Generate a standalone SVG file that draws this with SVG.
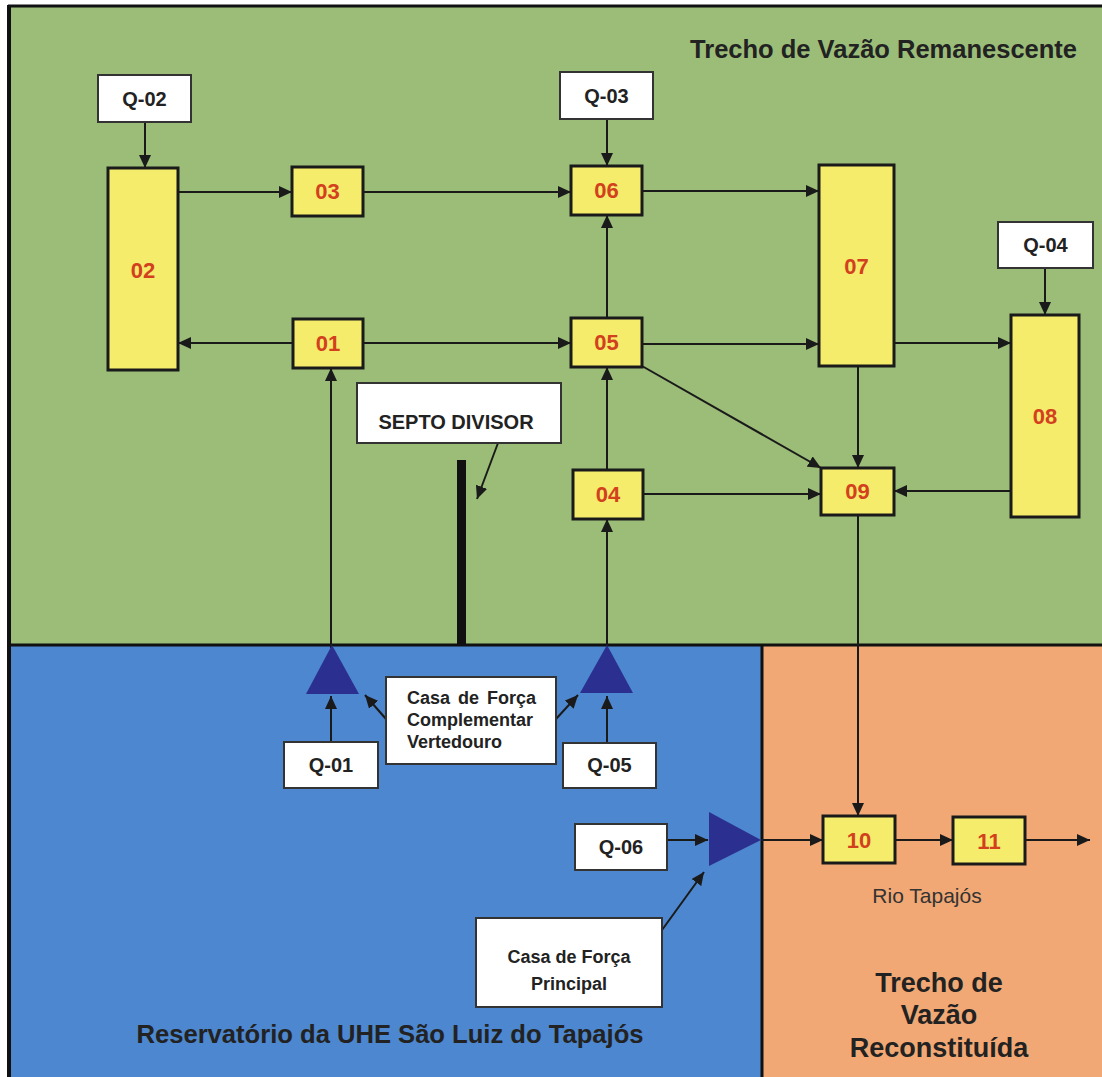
<svg xmlns="http://www.w3.org/2000/svg" width="1102" height="1077" viewBox="0 0 1102 1077">
<style>
.box{fill:#f4ec6a;stroke:#1a1a1a;stroke-width:3}
.q{fill:#ffffff;stroke:#333;stroke-width:2}
.num{font-family:"Liberation Sans",Arial,sans-serif;font-weight:bold;font-size:22px;fill:#d2401e;text-anchor:middle}
.ql{font-family:"Liberation Sans",Arial,sans-serif;font-weight:bold;font-size:20px;fill:#222;text-anchor:middle}
.lbl{font-family:"Liberation Sans",Arial,sans-serif;font-weight:bold;font-size:18px;fill:#222}
.conn line{stroke:#1a1a1a;stroke-width:2;marker-end:url(#ah)}
.tri{fill:#2b3090}
</style>
<defs>
<marker id="ah" markerUnits="userSpaceOnUse" markerWidth="14" markerHeight="12" refX="13" refY="6" orient="auto">
<path d="M0,0 L13,6 L0,12 z" fill="#1a1a1a"/>
</marker>
</defs>
<rect x="0" y="0" width="1102" height="1077" fill="#ffffff"/>
<g id="regions">
<rect x="9" y="6" width="1093" height="639" fill="#9bbd78"/>
<rect x="9" y="645" width="753" height="432" fill="#4c87cf"/>
<rect x="762" y="645" width="340" height="432" fill="#f1a874"/>
<line x1="8" y1="6" x2="1102" y2="6" stroke="#111" stroke-width="3"/>
<line x1="9" y1="5" x2="9" y2="1077" stroke="#111" stroke-width="4"/>
<line x1="9" y1="645" x2="1102" y2="645" stroke="#111" stroke-width="3"/>
<line x1="762" y1="645" x2="762" y2="1077" stroke="#111" stroke-width="3"/>
</g>
<text x="1077" y="58" font-family="Liberation Sans, Arial, sans-serif" font-weight="bold" font-size="25.5" fill="#222" text-anchor="end">Trecho de Vazão Remanescente</text>
<g id="septo">
<rect x="457" y="460" width="9" height="185" fill="#111"/>
</g>
<g class="conn" id="connectors">
<line x1="145" y1="122" x2="145" y2="168"/>
<line x1="178" y1="192" x2="292" y2="192"/>
<line x1="293" y1="343" x2="178" y2="343"/>
<line x1="363" y1="192" x2="571" y2="192"/>
<line x1="363" y1="343" x2="571" y2="343"/>
<line x1="607" y1="119" x2="607" y2="166"/>
<line x1="607" y1="318" x2="607" y2="215"/>
<line x1="607" y1="470" x2="607" y2="367"/>
<line x1="607" y1="648" x2="607" y2="519"/>
<line x1="331" y1="648" x2="331" y2="368"/>
<line x1="642" y1="191" x2="819" y2="191"/>
<line x1="642" y1="344" x2="819" y2="344"/>
<line x1="894" y1="343" x2="1011" y2="343"/>
<line x1="1045" y1="268" x2="1045" y2="315"/>
<line x1="858" y1="366" x2="858" y2="468"/>
<line x1="642" y1="366" x2="821" y2="468"/>
<line x1="643" y1="494" x2="821" y2="494"/>
<line x1="1011" y1="491" x2="894" y2="491"/>
<line x1="858" y1="515" x2="858" y2="816"/>
<line x1="761" y1="840" x2="823" y2="840"/>
<line x1="895" y1="840" x2="953" y2="840"/>
<line x1="1025" y1="840" x2="1090" y2="840"/>
<line x1="331" y1="742" x2="331" y2="696"/>
<line x1="607" y1="743" x2="607" y2="696"/>
<line x1="667" y1="840" x2="708" y2="840"/>
<line x1="386" y1="719" x2="365" y2="695"/>
<line x1="556" y1="719" x2="578" y2="695"/>
<line x1="662" y1="930" x2="704" y2="872"/>
<line x1="498" y1="443" x2="477" y2="499"/>
</g>
<g id="T1"><polygon class="tri" points="332,645 306,694 359,694"/></g>
<g id="T2"><polygon class="tri" points="607,645 580,693 633,693"/></g>
<g id="T3"><polygon class="tri" points="709,812 709,866 761,840"/></g>
<g id="n02"><rect class="box" x="108" y="168" width="70" height="202"/><text class="num" x="143" y="278">02</text></g>
<g id="n03"><rect class="box" x="292" y="167" width="71" height="49"/><text class="num" x="327.5" y="199">03</text></g>
<g id="n01"><rect class="box" x="293" y="319" width="70" height="49"/><text class="num" x="328" y="351">01</text></g>
<g id="n06"><rect class="box" x="571" y="166" width="71" height="49"/><text class="num" x="606.5" y="198">06</text></g>
<g id="n05"><rect class="box" x="571" y="318" width="71" height="49"/><text class="num" x="606.5" y="350">05</text></g>
<g id="n04"><rect class="box" x="573" y="470" width="70" height="49"/><text class="num" x="608" y="502">04</text></g>
<g id="n07"><rect class="box" x="819" y="165" width="75" height="201"/><text class="num" x="856.5" y="274">07</text></g>
<g id="n08"><rect class="box" x="1011" y="315" width="68" height="202"/><text class="num" x="1045" y="424">08</text></g>
<g id="n09"><rect class="box" x="821" y="468" width="73" height="47"/><text class="num" x="857.5" y="499">09</text></g>
<g id="n10"><rect class="box" x="823" y="816" width="72" height="47"/><text class="num" x="859" y="848">10</text></g>
<g id="n11"><rect class="box" x="953" y="817" width="72" height="47"/><text class="num" x="989" y="849">11</text></g>
<g id="q02"><rect class="q" x="98" y="75" width="93" height="47"/><text class="ql" x="144.5" y="106">Q-02</text></g>
<g id="q03"><rect class="q" x="560" y="72" width="93" height="47"/><text class="ql" x="606.5" y="103">Q-03</text></g>
<g id="q04"><rect class="q" x="998" y="222" width="95" height="46"/><text class="ql" x="1045.5" y="252">Q-04</text></g>
<g id="q01"><rect class="q" x="284" y="742" width="94" height="46"/><text class="ql" x="331" y="772">Q-01</text></g>
<g id="q05"><rect class="q" x="563" y="743" width="93" height="45"/><text class="ql" x="609.5" y="772">Q-05</text></g>
<g id="q06"><rect class="q" x="575" y="824" width="92" height="46"/><text class="ql" x="621" y="854">Q-06</text></g>
<g id="septoLabel"><rect class="q" x="357" y="383" width="204" height="60"/><text class="ql" x="456" y="429">SEPTO DIVISOR</text></g>
<g id="cfc"><rect class="q" x="386" y="677" width="170" height="87"/>
<text class="lbl" x="407" y="704" word-spacing="3">Casa de Força</text>
<text class="lbl" x="407" y="726">Complementar</text>
<text class="lbl" x="407" y="748">Vertedouro</text></g>
<g id="cfp"><rect class="q" x="476" y="918" width="186" height="89"/>
<text class="lbl" x="569" y="963" text-anchor="middle">Casa de Força</text>
<text class="lbl" x="569" y="990" text-anchor="middle">Principal</text></g>
<text x="390" y="1043" font-family="Liberation Sans, Arial, sans-serif" font-weight="bold" font-size="25" fill="#222" text-anchor="middle" textLength="507" lengthAdjust="spacingAndGlyphs">Reservatório da UHE São Luiz do Tapajós</text>
<text x="927" y="903" font-family="Liberation Sans, Arial, sans-serif" font-size="21" fill="#333" text-anchor="middle">Rio Tapajós</text>
<g font-family="Liberation Sans, Arial, sans-serif" font-weight="bold" font-size="27" fill="#222" text-anchor="middle">
<text x="939" y="992">Trecho de</text>
<text x="939" y="1024">Vazão</text>
<text x="939" y="1057">Reconstituída</text>
</g>
</svg>
